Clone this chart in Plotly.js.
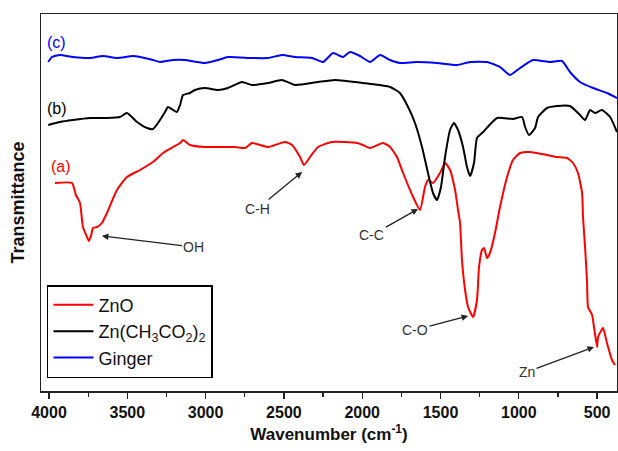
<!DOCTYPE html>
<html>
<head>
<meta charset="utf-8">
<script src="https://cdn.plot.ly/plotly-3.0.1.min.js"></script>
<style>html,body{margin:0;padding:0;background:#fff;}#chart{width:618px;height:451px;}</style>
</head>
<body>
<div id="chart"></div>
<script>
// Wavenumber (cm-1) and transmittance (arbitrary, offset)
const znoWave = [3962,3853,3828,3802,3783,3757,3745,3730,3719,3693,3662,3630,3566,3502,3419,3336,3272,3208,3163,3144,3100,3004,2921,2812,2748,2704,2601,2493,2448,2397,2372,2333,2282,2193,2033,1995,1950,1867,1822,1778,1739,1675,1631,1599,1580,1548,1503,1471,1439,1407,1388,1375,1363,1343,1324,1292,1267,1254,1235,1222,1203,1184,1152,1120,1075,1037,992,928,820,756,692,654,622,596,590,577,564,558,532,520,500,494,462,437,405,386];
const znoT =    [217,217,205,197,173,163,159,165,172,173,177,187,210,223,230,238,247,253,257,260,255,253,253,253,252,257,253,258,255,243,235,243,253,258,257,255,252,257,253,243,227,203,190,213,220,217,227,237,230,210,190,177,140,110,93,83,100,133,150,152,142,147,167,193,223,240,247,248,245,243,242,237,227,207,183,153,117,93,85,73,53,63,72,57,40,35];

const acetWave = [4005,3930,3847,3738,3630,3547,3502,3438,3374,3336,3304,3259,3240,3208,3183,3163,3144,3100,3068,3004,2921,2857,2768,2704,2601,2512,2429,2282,2174,1995,1822,1759,1707,1663,1618,1580,1548,1522,1497,1471,1439,1414,1388,1356,1331,1311,1286,1267,1228,1139,1037,979,960,935,896,877,820,756,673,609,577,545,513,469,417,373];
const acetT =    [275,278,280,282,282,283,287,278,272,271,277,288,293,290,288,295,305,307,310,312,310,312,318,315,317,320,315,318,320,317,313,307,293,277,253,227,207,200,213,243,270,277,270,253,233,224,237,262,268,282,281,283,273,265,272,283,292,294,294,285,280,290,287,290,283,268];

const gingerWave = [4005,3981,3930,3847,3738,3655,3566,3464,3419,3336,3291,3208,3132,3004,2921,2857,2704,2601,2512,2429,2320,2250,2186,2123,2078,2014,1950,1886,1822,1759,1650,1522,1395,1311,1203,1120,1056,992,909,801,724,673,609,526,437,373];
const gingerT =    [338,343,345,343,342,344,342,344,343,340,338,340,340,337,340,343,342,342,345,343,342,338,347,343,348,344,338,345,340,337,338,337,335,338,338,333,325,332,340,338,339,328,318,312,307,302];

const seriesNames = ['ZnO', 'Zn(CH<sub>3</sub>CO<sub>2</sub>)<sub>2</sub>', 'Ginger'];
const seriesColors = ['#ff0000', '#000000', '#0000ff'];
const curveLabels = ['(a)', '(b)', '(c)'];
const curveLabelPos = [[3923, 234], [3949, 292], [3955, 358]];
const bandLabels = ['OH', 'C-H', 'C-C', 'C-O', 'Zn'];
const bandTips = [[3662, 164], [2384, 228], [1644, 191], [1324, 84], [520, 53]];
const bandOffsets = [[92, 11], [-45, 37], [-46, 26], [-53, 14], [-67, 25]];

const FONT = 'Liberation Sans, Arial, sans-serif';

const traces = [
  {x: znoWave, y: znoT, name: seriesNames[0], line: {color: seriesColors[0], width: 2, shape: 'spline', smoothing: 0.5}},
  {x: acetWave, y: acetT, name: seriesNames[1], line: {color: seriesColors[1], width: 2, shape: 'spline', smoothing: 0.5}},
  {x: gingerWave, y: gingerT, name: seriesNames[2], line: {color: seriesColors[2], width: 2, shape: 'spline', smoothing: 0.5}}
].map(t => Object.assign({type: 'scatter', mode: 'lines'}, t));

const annotations = [];
curveLabels.forEach((t, i) => annotations.push({
  x: curveLabelPos[i][0], y: curveLabelPos[i][1], xref: 'x', yref: 'y',
  text: t, showarrow: false, font: {family: FONT, size: 16, color: seriesColors[i]}
}));
bandLabels.forEach((t, i) => annotations.push({
  x: bandTips[i][0], y: bandTips[i][1], xref: 'x', yref: 'y',
  text: t, showarrow: true, ax: bandOffsets[i][0], ay: bandOffsets[i][1],
  arrowhead: 2, arrowsize: 1, arrowwidth: 1.3, arrowcolor: '#222', standoff: 0,
  font: {family: FONT, size: 14, color: '#333'}
}));

const layout = {
  width: 618, height: 451,
  margin: {l: 41, r: 1, t: 14, b: 60},
  paper_bgcolor: '#fff', plot_bgcolor: '#fff',
  showlegend: true,
  legend: {
    x: 0.0104, y: 0.281, xanchor: 'left', yanchor: 'top',
    bordercolor: '#000', borderwidth: 1.5, bgcolor: '#fff',
    font: {family: FONT, size: 18, color: '#111'},
    tracegroupgap: 0, itemwidth: 40
  },
  xaxis: {
    range: [4051, 373], showgrid: false, zeroline: false,
    showline: true, linecolor: '#222', linewidth: 1.5, mirror: true,
    ticks: 'outside', ticklen: 6, tickwidth: 1.3, tickcolor: '#222',
    tick0: 0, dtick: 500,
    minor: {dtick: 250, tick0: 0, ticks: 'outside', ticklen: 4, tickcolor: '#222', tickwidth: 1.2},
    tickfont: {family: FONT, size: 16, color: '#111', weight: 'bold'},
    title: {text: 'Wavenumber (cm<sup>-1</sup>)', font: {family: FONT, size: 17, color: '#111', weight: 'bold'}, standoff: 8}
  },
  yaxis: {
    range: [9, 386], showgrid: false, zeroline: false,
    showline: true, linecolor: '#222', linewidth: 1.5, mirror: true,
    ticks: '', showticklabels: false,
    title: {text: 'Transmittance', font: {family: FONT, size: 18, color: '#111', weight: 'bold'}, standoff: 10}
  },
  annotations: annotations
};

Plotly.newPlot('chart', traces, layout, {displayModeBar: false, staticPlot: true});
</script>
</body>
</html>
